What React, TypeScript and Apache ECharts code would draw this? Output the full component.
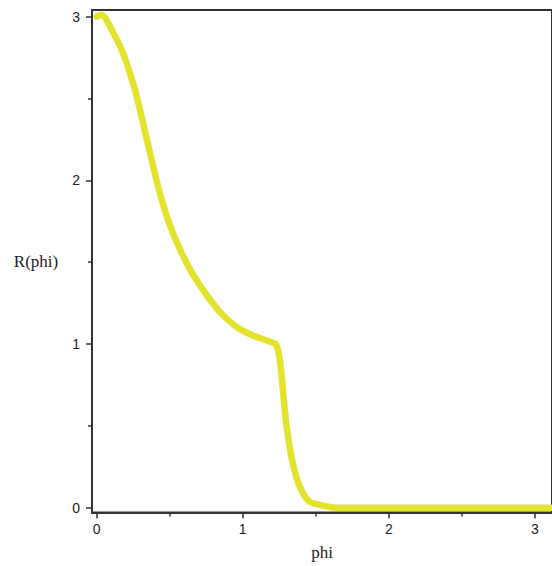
import React, { useEffect, useRef } from "react";
import * as echarts from "echarts";

const phiValues = [0, 0.03, 0.06, 0.12, 0.165, 0.204, 0.266, 0.32, 0.375, 0.43, 0.5, 0.58, 0.67, 0.83, 0.95, 1.05, 1.14, 1.2, 1.227, 1.254, 1.277, 1.3, 1.336, 1.386, 1.454, 1.57, 1.65, 2.0, 2.5, 3.1416];
const rValues = [3.0, 3.01, 2.99, 2.89, 2.81, 2.72, 2.54, 2.34, 2.13, 1.93, 1.73, 1.56, 1.41, 1.21, 1.11, 1.06, 1.03, 1.01, 1.0, 0.905, 0.7, 0.5, 0.3, 0.14, 0.04, 0.01, 0.0, 0.0, 0.0, 0.0];
const xMajorTicks = [0, 1, 2, 3];
const xMinorTicks = [0.5, 1.5, 2.5];
const yMajorTicks = [0, 1, 2, 3];
const yMinorTicks = [0.5, 1.5, 2.5];

const X_MIN = -0.032;
const X_MAX = 3.117;
const Y_MIN = -0.0284;
const Y_MAX = 3.0405;

const AXIS_COLOR = "#333333";
const LABEL_FONT = "Liberation Sans";
const NAME_FONT = "Liberation Serif";

export default function App() {
  const ref = useRef<HTMLDivElement>(null);
  useEffect(() => {
    if (!ref.current) return;
    const chart = echarts.init(ref.current, null, { renderer: "svg" });
    const data = phiValues.map((p, i) => [p, rValues[i]]);
    const baseAxis = (min: number, max: number) => ({
      type: "value" as const,
      min,
      max,
      splitLine: { show: false },
    });
    chart.setOption({
      animation: false,
      backgroundColor: "#ffffff",
      grid: {
        left: 92,
        top: 10,
        right: -2,
        bottom: 48.3,
        show: true,
        borderColor: AXIS_COLOR,
        borderWidth: 2,
        backgroundColor: "transparent",
      },
      xAxis: [
        {
          ...baseAxis(X_MIN, X_MAX),
          position: "bottom",
          axisLine: { show: true, onZero: false, lineStyle: { color: AXIS_COLOR, width: 2 } },
          axisTick: { show: true, customValues: xMajorTicks, length: 6, lineStyle: { color: AXIS_COLOR, width: 1.5 } },
          axisLabel: {
            show: true,
            customValues: xMajorTicks,
            margin: 9,
            fontFamily: LABEL_FONT,
            fontSize: 14,
            color: "#222222",
            formatter: (v: number) => String(Math.round(v)),
          },
          name: "phi",
          nameLocation: "middle",
          nameGap: 40,
          nameTextStyle: { fontFamily: NAME_FONT, fontSize: 17, color: "#222222", align: "center", verticalAlign: "middle" },
        },
        {
          ...baseAxis(X_MIN, X_MAX),
          position: "bottom",
          axisLine: { show: false, onZero: false },
          axisTick: { show: true, customValues: xMinorTicks, length: 4, lineStyle: { color: AXIS_COLOR, width: 1.5 } },
          axisLabel: { show: false },
        },
      ],
      yAxis: [
        {
          ...baseAxis(Y_MIN, Y_MAX),
          position: "left",
          axisLine: { show: true, onZero: false, lineStyle: { color: AXIS_COLOR, width: 2 } },
          axisTick: { show: true, customValues: yMajorTicks, length: 6, lineStyle: { color: AXIS_COLOR, width: 1.5 } },
          axisLabel: {
            show: true,
            customValues: yMajorTicks,
            margin: 12,
            fontFamily: LABEL_FONT,
            fontSize: 14,
            color: "#222222",
            formatter: (v: number) => String(Math.round(v)),
          },
          name: "R(phi)",
          nameLocation: "middle",
          nameGap: 56,
          nameRotate: 0,
          nameTextStyle: { fontFamily: NAME_FONT, fontSize: 17, color: "#222222", align: "center", verticalAlign: "middle" },
        },
        {
          ...baseAxis(Y_MIN, Y_MAX),
          position: "left",
          axisLine: { show: false, onZero: false },
          axisTick: { show: true, customValues: yMinorTicks, length: 4, lineStyle: { color: AXIS_COLOR, width: 1.5 } },
          axisLabel: { show: false },
        },
      ],
      series: [
        {
          type: "line",
          xAxisIndex: 0,
          yAxisIndex: 0,
          data,
          showSymbol: false,
          smooth: 0.3,
          clip: true,
          lineStyle: { color: "#e3e32e", width: 6.5, cap: "round", join: "round" },
          itemStyle: { color: "#e3e32e" },
        },
      ],
    });
    return () => chart.dispose();
  }, []);
  return (
    <div
      ref={ref}
      style={{ position: "fixed", left: 0, top: 0, width: 552, height: 566, background: "#fff" }}
    />
  );
}
